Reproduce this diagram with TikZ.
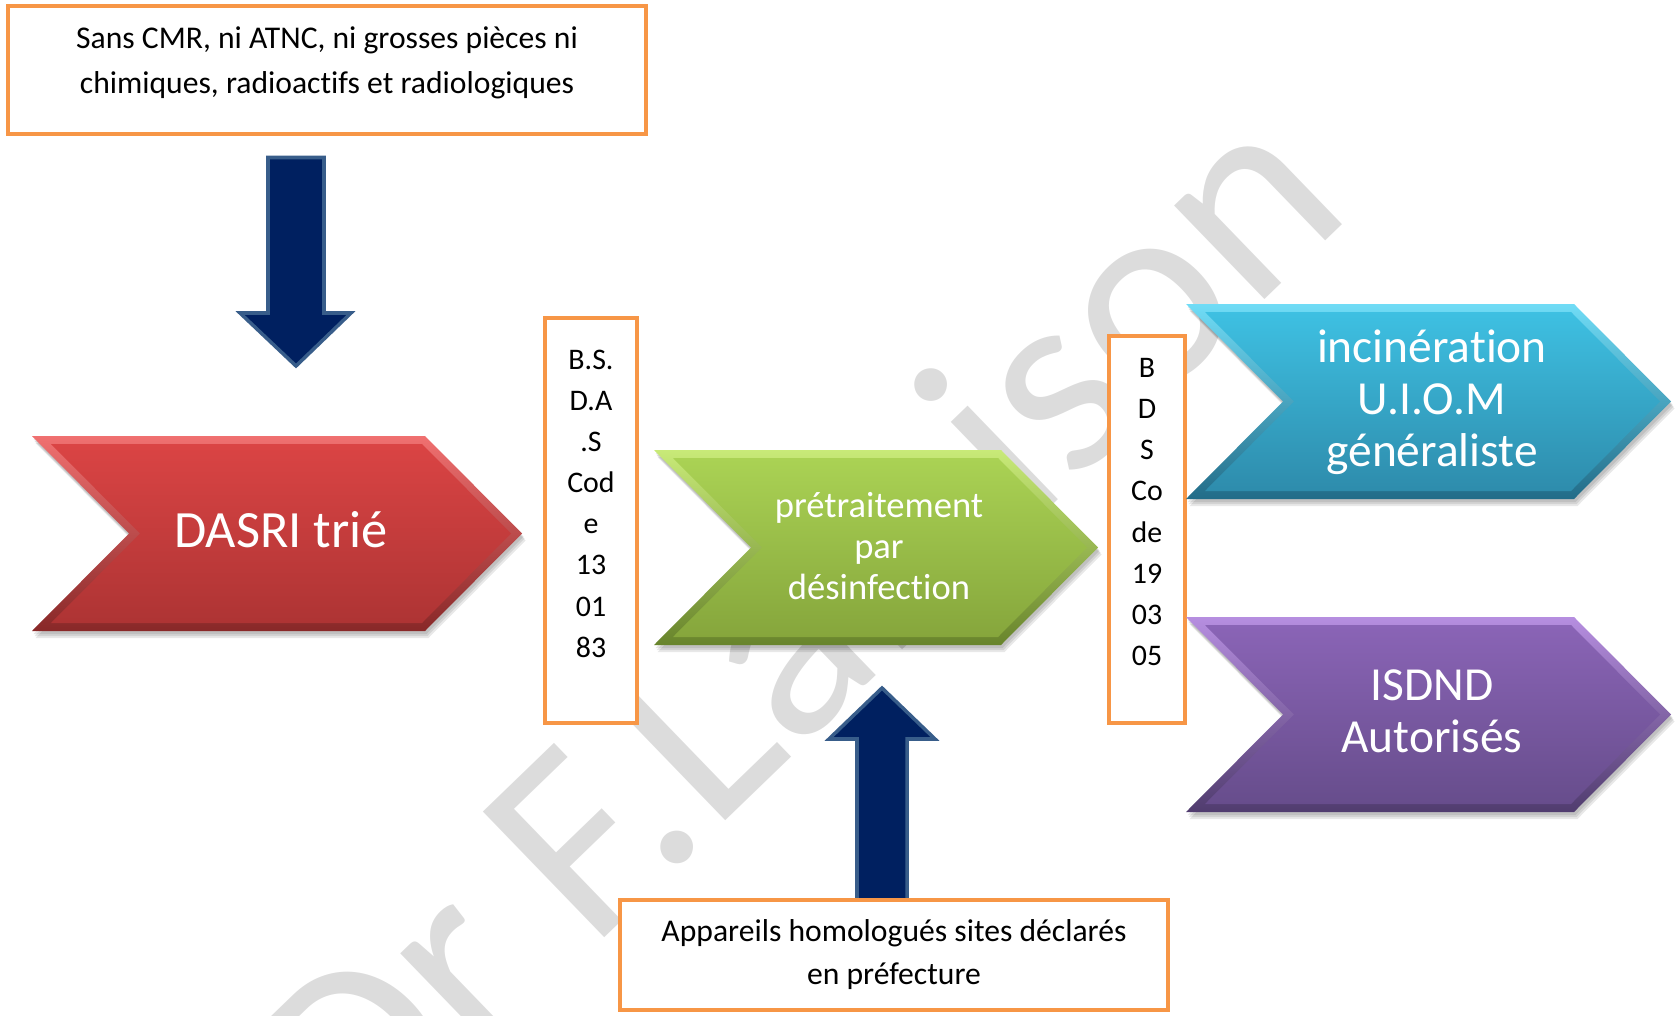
\documentclass[tikz,border=0pt]{standalone}
\usepackage{fontspec}
\setmainfont{Carlito}[Ligatures=NoCommon]
\usetikzlibrary{positioning,calc}
\definecolor{boxorange}{HTML}{F79646}
\definecolor{arrownavy}{HTML}{002060}
\definecolor{arrowedge}{HTML}{385D8A}
\definecolor{wmark}{RGB}{220,220,220}
\definecolor{redtop}{RGB}{218,68,68}
\definecolor{redbot}{RGB}{174,52,52}
\definecolor{redhl}{RGB}{240,112,112}
\definecolor{reddk}{RGB}{136,40,40}
\definecolor{greentop}{RGB}{170,210,84}
\definecolor{greenbot}{RGB}{134,166,60}
\definecolor{greenhl}{RGB}{200,234,120}
\definecolor{greendk}{RGB}{104,132,44}
\definecolor{bluetop}{RGB}{62,192,226}
\definecolor{bluebot}{RGB}{46,140,172}
\definecolor{bluehl}{RGB}{112,220,246}
\definecolor{bluedk}{RGB}{34,108,136}
\definecolor{purpletop}{RGB}{138,100,182}
\definecolor{purplebot}{RGB}{103,77,140}
\definecolor{purplehl}{RGB}{182,142,224}
\definecolor{purpledk}{RGB}{80,60,110}
\tikzset{%
   obox/.style={
      draw=boxorange,
      line width=2.2pt,
      fill=white,
      inner sep=0pt
   },
   boxtext/.style={
      font=\fontsize{18}{25.6}\selectfont,
      align=center,
      inner sep=0pt
   },
   codetext/.style={
      font=\fontsize{17}{23.4}\selectfont,
      align=center,
      inner sep=0pt
   },
   chevtext/.style={
      text=white,
      align=center,
      inner sep=0pt
   },
   blockarrow/.style={
      fill=arrownavy,
      draw=arrowedge,
      line width=2pt,
      line join=miter
   },
}
\newcommand\chevron[4]{%
  \foreach \s in {3,5,7}
    \fill[black, opacity=.09] (#1+\s/2,#2+\s) -- (#3-97+\s/2,#2+\s) -- (#3+\s/2,#2+97.5+\s)
      -- (#3-97+\s/2,#2+195+\s) -- (#1+\s/2,#2+195+\s) -- (#1+97+\s/2,#2+97.5+\s) -- cycle;
  \shade[top color=#4hl, bottom color=#4dk] (#1,#2) -- (#3-97,#2) -- (#3,#2+97.5)
    -- (#3-97,#2+195) -- (#1,#2+195) -- (#1+97,#2+97.5) -- cycle;
  \shade[top color=#4top, bottom color=#4bot] (#1+19,#2+8) -- (#3-100,#2+8) -- (#3-11,#2+97.5)
    -- (#3-100,#2+187) -- (#1+19,#2+187) -- (#1+108,#2+97.5) -- cycle;
}

\begin{document}
\begin{tikzpicture}[x=0.2mm, y=-0.2mm]
   \useasboundingbox (0,0) rectangle (1680,1016);
   \begin{scope}
      \clip (0,0) rectangle (1680,1016);
      \node[text=wmark, inner sep=0pt, anchor=base west, rotate=44,
            font=\fontsize{155}{155}\selectfont] (wm) at (358,1176) {Dr F.Lalaison};
   \end{scope}

   \node[obox, minimum width=127.7mm, minimum height=25.7mm] (sans) at (327,70) {};
   \node[boxtext, below=4.6mm of sans.north] (sanstext)
      {Sans CMR, ni ATNC, ni grosses pièces ni\\chimiques, radioactifs et radiologiques};

   \draw[blockarrow] (268,157.5) -- (324,157.5) -- (324,313) -- (351,313)
      -- (296,366) -- (240,313) -- (268,313) -- cycle;

   \chevron{32}{436}{522}{red}
   \node[chevtext, font=\fontsize{29.8}{36}\selectfont] (dasri) at (281,530) {DASRI trié};

   \node[obox, minimum width=18.4mm, minimum height=81mm] (bsdas) at (591,520.5) {};
   \node[codetext, below=6.7mm of bsdas.north] (bsdastext)
      {B.S.\\D.A\\.S\\Cod\\e\\13\\01\\83};

   \chevron{654}{450}{1098}{green}
   \node[chevtext, font=\fontsize{20.8}{23.3}\selectfont] (pretrait) at (879,546)
      {prétraitement\\par\\désinfection};

   \node[obox, minimum width=15.2mm, minimum height=77.4mm] (bds) at (1147,529.5) {};
   \node[codetext, below=4.8mm of bds.north] (bdstext)
      {B\\D\\S\\Co\\de\\19\\03\\05};

   \chevron{1186}{304}{1671}{blue}
   \node[chevtext, font=\fontsize{27}{29.6}\selectfont] (uiom) at (1432,402)
      {incinération\\U.I.O.M\\généraliste};

   \chevron{1186}{617}{1671}{purple}
   \node[chevtext, font=\fontsize{27}{29.6}\selectfont] (isdnd) at (1432,711)
      {ISDND\\Autorisés};

   \draw[blockarrow] (857,900) -- (857,739) -- (829,739) -- (882,688)
      -- (935,739) -- (907,739) -- (907,900);

   \node[obox, boxtext, minimum width=109.6mm, minimum height=22mm,
         font=\fontsize{18}{24.5}\selectfont] (appareils) at (894,955)
      {Appareils homologués sites déclarés\\en préfecture};
\end{tikzpicture}
\end{document}
